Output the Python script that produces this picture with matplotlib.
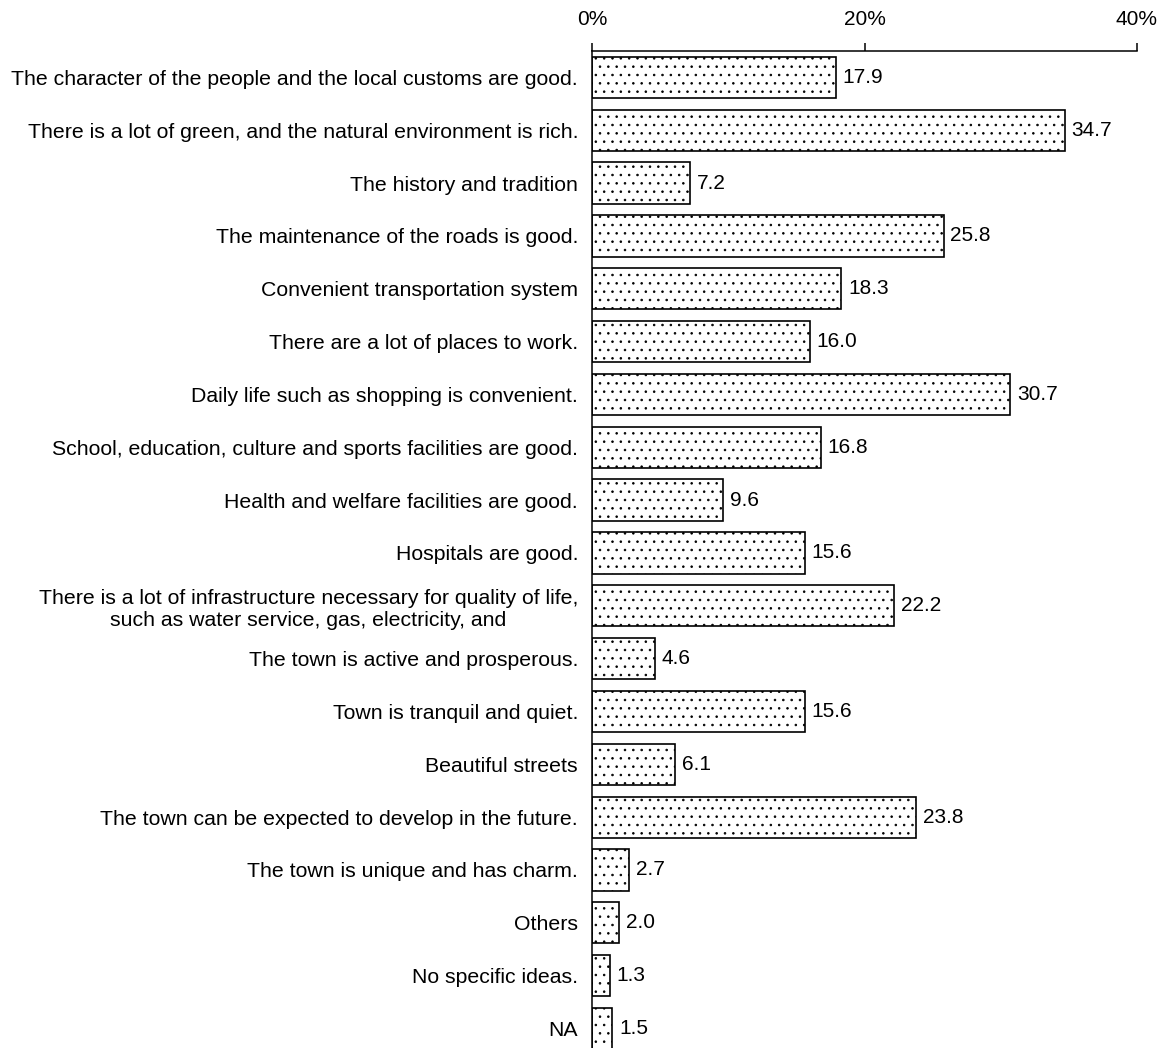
import matplotlib
matplotlib.use('Agg')
import matplotlib.pyplot as plt

plt.rcParams['font.family'] = ['Liberation Sans', 'DejaVu Sans']
plt.rcParams['hatch.color'] = '#a0a0a0'
plt.rcParams['hatch.linewidth'] = 0.6

categories = [
    'The character of the people and the local customs are good.',
    'There is a lot of green, and the natural environment is rich.',
    'The history and tradition',
    'The maintenance of the roads is good.',
    'Convenient transportation system',
    'There are a lot of places to work.',
    'Daily life such as shopping is convenient.',
    'School, education, culture and sports facilities are good.',
    'Health and welfare facilities are good.',
    'Hospitals are good.',
    'There is a lot of infrastructure necessary for quality of life,\n'
    'such as water service, gas, electricity, and',
    'The town is active and prosperous.',
    'Town is tranquil and quiet.',
    'Beautiful streets',
    'The town can be expected to develop in the future.',
    'The town is unique and has charm.',
    'Others',
    'No specific ideas.',
    'NA',
]
values = [17.9, 34.7, 7.2, 25.8, 18.3, 16.0, 30.7, 16.8, 9.6, 15.6,
          22.2, 4.6, 15.6, 6.1, 23.8, 2.7, 2.0, 1.3, 1.5]
x_ticks = [0, 20, 40]
x_tick_labels = ['0%', '20%', '40%']

fig = plt.figure(figsize=(11.64, 10.48), dpi=100)
ax = fig.add_axes([592 / 1164, 0, 545 / 1164, (1048 - 51) / 1048])

ypos = list(range(len(categories)))
ax.barh(ypos, values, height=0.78, color='white', edgecolor='black',
        linewidth=1.2, hatch='..')

for y, v in zip(ypos, values):
    ax.text(v + 0.5, y, f'{v:.1f}', va='center', ha='left', fontsize=15)

ax.set_xlim(0, 40)
ax.set_ylim(18.37, -0.50)
ax.xaxis.tick_top()
ax.set_xticks(x_ticks)
ax.set_xticklabels(x_tick_labels, fontsize=15,
                   family=['Liberation Sans Narrow', 'Liberation Sans'])
ax.tick_params(axis='x', direction='out', length=6, width=1.1, pad=10)
ax.set_yticks(ypos)
ax.set_yticklabels(categories, fontsize=15.3, multialignment='center')
ax.tick_params(axis='y', length=0, pad=10)

for side in ['right', 'bottom']:
    ax.spines[side].set_visible(False)
ax.spines['top'].set_linewidth(1.1)
ax.spines['left'].set_linewidth(1.1)

fig.savefig('out.png', dpi=100)
